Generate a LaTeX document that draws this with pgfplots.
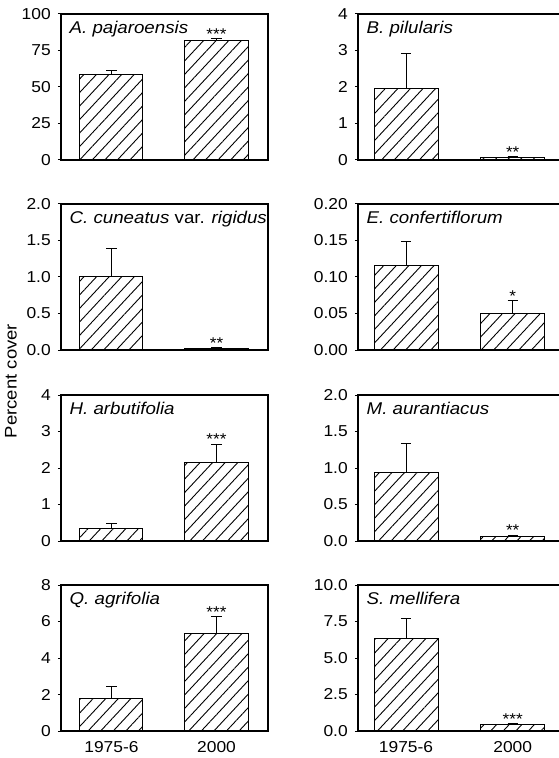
\documentclass[border=0pt]{standalone}
\usepackage{fontspec}
\setmainfont{Liberation Sans}[FakeStretch=1.1]
\usepackage{pgfplots}
\pgfplotsset{compat=1.18}
\usetikzlibrary{patterns.meta}

\pgfplotsset{
  panel/.style={
    scale only axis, width=103.5pt, height=73pt, anchor=north west,
    xmin=0.52, xmax=2.49, ymin=0,
    xtick=\empty, tick align=outside, ytick pos=left,
    major tick length=1.6pt,
    tick style={black, line width=0.5pt},
    axis line style={line width=0.55pt},
    ticklabel style={font=\fontsize{7.9}{9}\selectfont},
    /pgf/number format/assume math mode=true,
    clip=false,
  },
  bottomrow/.style={
    xtick={1,2}, xticklabels={1975-6,2000},
    xtick style={draw=none},
  },
  hatched/.style={
    ybar, bar shift=0pt, bar width=0.6,
    draw=black, line width=0.5pt,
    pattern={Lines[angle=47, distance=4.6pt, line width=0.45pt]},
    error bars/.cd, y dir=plus, y explicit,
    error bar style={black, line width=0.5pt},
    error mark options={black, line width=0.5pt, mark size=2.6pt, rotate=90},
  },
  stars/.style={
    draw=none, mark=none, nodes near coords, point meta=explicit symbolic,
    every node near coord/.style={font=\fontsize{7.8}{9}\selectfont,
      anchor=south, inner sep=0pt, yshift=-0.5pt},
  },
}
\tikzset{species/.style={anchor=north west, inner sep=0pt,
    font=\itshape\fontsize{8.5}{10}\selectfont}}

\begin{document}
\begin{tikzpicture}
\useasboundingbox (0,0) rectangle (279pt,-379pt);

% row 1
\begin{axis}[panel, at={(30.5pt,-7pt)}, ymax=100, ytick={0,25,50,75,100}]
  \addplot[hatched] coordinates {(1,58.5) +- (0,3.0) (2,81.6) +- (0,1.5)};
  \addplot[stars] coordinates {(2,83.1) [***]};
  \node[species] at (rel axis cs:0.04,0.955) {A. pajaroensis};
\end{axis}
\begin{axis}[panel, at={(179pt,-7pt)}, xmin=0.55, ymax=4, ytick={0,1,2,3,4}]
  \addplot[hatched] coordinates {(1,1.95) +- (0,0.97) (2,0.06) +- (0,0.03)};
  \addplot[stars] coordinates {(2,0.09) [**]};
  \node[species] at (rel axis cs:0.04,0.955) {B. pilularis};
\end{axis}

% row 2
\begin{axis}[panel, at={(30.5pt,-102pt)}, ymax=2, ytick={0,0.5,1,1.5,2},
    yticklabel style={/pgf/number format/.cd, fixed, fixed zerofill, precision=1}]
  \addplot[hatched] coordinates {(1,1.0) +- (0,0.39) (2,0.02) +- (0,0.01)};
  \addplot[stars] coordinates {(2,0.03) [**]};
  \node[species] at (rel axis cs:0.04,0.955) {C. cuneatus \upshape var. \itshape rigidus};
\end{axis}
\begin{axis}[panel, at={(179pt,-102pt)}, xmin=0.55, ymax=0.2, ytick={0,0.05,0.1,0.15,0.2},
    yticklabel style={/pgf/number format/.cd, fixed, fixed zerofill, precision=2}]
  \addplot[hatched] coordinates {(1,0.116) +- (0,0.033) (2,0.050) +- (0,0.0175)};
  \addplot[stars] coordinates {(2,0.0675) [*]};
  \node[species] at (rel axis cs:0.04,0.955) {E. confertiflorum};
\end{axis}

% row 3
\begin{axis}[panel, at={(30.5pt,-197.5pt)}, ymax=4, ytick={0,1,2,3,4}]
  \addplot[hatched] coordinates {(1,0.34) +- (0,0.14) (2,2.14) +- (0,0.51)};
  \addplot[stars] coordinates {(2,2.65) [***]};
  \node[species] at (rel axis cs:0.04,0.955) {H. arbutifolia};
\end{axis}
\begin{axis}[panel, at={(179pt,-197.5pt)}, xmin=0.55, ymax=2, ytick={0,0.5,1,1.5,2},
    yticklabel style={/pgf/number format/.cd, fixed, fixed zerofill, precision=1}]
  \addplot[hatched] coordinates {(1,0.94) +- (0,0.39) (2,0.06) +- (0,0.02)};
  \addplot[stars] coordinates {(2,0.08) [**]};
  \node[species] at (rel axis cs:0.04,0.955) {M. aurantiacus};
\end{axis}

% row 4
\begin{axis}[panel, bottomrow, at={(30.5pt,-292.5pt)}, ymax=8, ytick={0,2,4,6,8}]
  \addplot[hatched] coordinates {(1,1.79) +- (0,0.67) (2,5.32) +- (0,0.93)};
  \addplot[stars] coordinates {(2,6.25) [***]};
  \node[species] at (rel axis cs:0.04,0.955) {Q. agrifolia};
\end{axis}
\begin{axis}[panel, bottomrow, at={(179pt,-292.5pt)}, xmin=0.55, ymax=10, ytick={0,2.5,5,7.5,10},
    yticklabel style={/pgf/number format/.cd, fixed, fixed zerofill, precision=1}]
  \addplot[hatched] coordinates {(1,6.31) +- (0,1.4) (2,0.45) +- (0,0.07)};
  \addplot[stars] coordinates {(2,0.52) [***]};
  \node[species] at (rel axis cs:0.04,0.955) {S. mellifera};
\end{axis}

\node[rotate=90, font=\fontsize{8.4}{10}\selectfont] at (5.5pt,-190.5pt) {Percent cover};
\end{tikzpicture}
\end{document}
